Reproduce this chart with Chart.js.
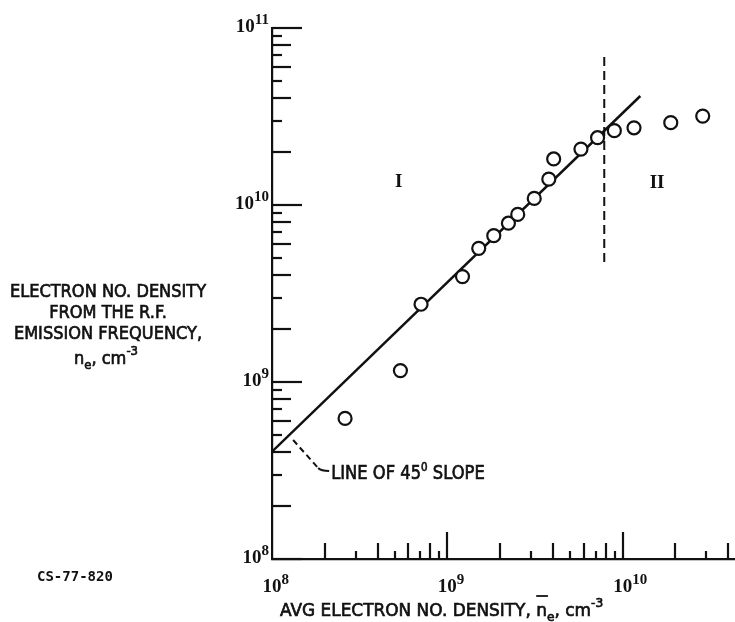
<!DOCTYPE html>
<html>
<head>
<meta charset="utf-8">
<script src="https://cdn.jsdelivr.net/npm/chart.js@4.4.0/dist/chart.umd.min.js"></script>
<style>
  html, body { margin: 0; padding: 0; background: #fff; }
  #wrap { width: 735px; height: 622px; }
</style>
</head>
<body>
<div id="wrap"><canvas id="densityChart" width="735" height="622"></canvas></div>
<script>
// average electron density (x) against density from the r.f. emission frequency (y), cm^-3
var avgDensity = [2.61e8, 5.40e8, 7.08e8, 1.22e9, 1.51e9, 1.84e9, 2.23e9, 2.52e9, 3.13e9,
                  3.79e9, 4.04e9, 5.78e9, 7.19e9, 8.96e9, 1.16e10, 1.88e10, 2.86e10];
var rfDensity  = [6.23e8, 1.16e9, 2.75e9, 3.94e9, 5.69e9, 6.71e9, 7.89e9, 8.85e9, 1.09e10,
                  1.40e10, 1.82e10, 2.07e10, 2.40e10, 2.63e10, 2.73e10, 2.92e10, 3.18e10];

// line of 45 degree slope
var slopeX = [1e8, 1.26e10];
var slopeY = [4.04e8, 4.13e10];

// dashed boundary between regime I and II
var boundaryX = [7.85e9, 7.85e9];
var boundaryY = [4.76e9, 7.23e10];

// regime labels
var regionNames = ['I', 'II'];
var regionX = [5.28e8, 1.57e10];
var regionY = [1.38e10, 1.36e10];

// decade tick labels (exponents of ten)
var xDecades = [8, 9, 10];
var yDecades = [8, 9, 10, 11];

var INK = '#111';

function zip(xs, ys) {
    return xs.map(function (x, i) { return { x: x, y: ys[i] }; });
}

// draw a row of text pieces: [text, font, raise]; a thin outline gives the lettering some weight
function drawRuns(ctx, runs, x, y, align, squeeze) {
    squeeze = squeeze || 1;
    var total = 0;
    runs.forEach(function (r) {
        ctx.font = r[1];
        r.w = ctx.measureText(r[0]).width * squeeze;
        total += r.w;
    });
    var pos = align === 'center' ? x - total / 2 : (align === 'right' ? x - total : x);
    runs.forEach(function (r) {
        ctx.save();
        ctx.font = r[1];
        ctx.translate(pos, y - (r[2] || 0));
        ctx.scale(squeeze, 1);
        ctx.fillText(r[0], 0, 0);
        if (r[3]) {
            ctx.lineWidth = r[3];
            ctx.strokeText(r[0], 0, 0);
        }
        ctx.restore();
        r.x = pos;
        pos += r.w;
    });
    return runs;
}

function tickLength(m, major, even, odd) {
    if (m === 1) return major;
    return m % 2 === 0 ? even : odd;
}

var paperPlugin = {
    id: 'paper',
    afterDraw: function (chart) {
        var ctx = chart.ctx;
        var xs = chart.scales.x, ys = chart.scales.y;
        var area = chart.chartArea;
        ctx.save();
        ctx.strokeStyle = INK;
        ctx.fillStyle = INK;
        ctx.lineWidth = 2.2;
        ctx.lineCap = 'butt';
        ctx.textBaseline = 'alphabetic';
        ctx.textAlign = 'left';

        // inward tick marks, 1..9 per decade
        for (var d = 8; d <= 11; d++) {
            for (var m = 1; m <= 9; m++) {
                var v = m * Math.pow(10, d);
                if (v >= ys.min && v <= ys.max) {
                    var py = Math.round(ys.getPixelForValue(v));
                    ctx.beginPath();
                    ctx.moveTo(area.left, py);
                    ctx.lineTo(area.left + tickLength(m, 30, 19, 10), py);
                    ctx.stroke();
                }
                if (v > xs.min && v <= xs.max) {
                    var px = Math.round(xs.getPixelForValue(v));
                    ctx.beginPath();
                    ctx.moveTo(px, area.bottom);
                    ctx.lineTo(px, area.bottom - tickLength(m, 27, 16, 8));
                    ctx.stroke();
                }
            }
        }

        // decade labels
        var big = 'bold 19px "Liberation Serif", "DejaVu Serif", serif';
        var small = 'bold 15px "Liberation Serif", "DejaVu Serif", serif';
        yDecades.forEach(function (e) {
            var py = ys.getPixelForValue(Math.pow(10, e));
            drawRuns(ctx, [['10', big, 0], [String(e), small, 8]], area.left - 3, py + 4, 'right');
        });
        xDecades.forEach(function (e) {
            var px = xs.getPixelForValue(Math.pow(10, e));
            ctx.font = big;
            var w = ctx.measureText('10').width;
            drawRuns(ctx, [['10', big, 0], [String(e), small, 8]], px - w / 2, area.bottom + 33, 'left');
        });

        // regime labels
        regionNames.forEach(function (name, i) {
            ctx.font = 'bold 19px "Liberation Serif", "DejaVu Serif", serif';
            ctx.textAlign = 'center';
            ctx.fillText(name, xs.getPixelForValue(regionX[i]), ys.getPixelForValue(regionY[i]) + 7);
            ctx.textAlign = 'left';
        });

        var sans = function (size) { return size + 'px "DejaVu Sans", "Liberation Sans", sans-serif'; };
        var W = 0.7;

        // y axis title, stacked to the left
        var cx = 108;
        var sq = 0.9;
        drawRuns(ctx, [['ELECTRON NO. DENSITY', sans(18), 0, W]], cx, 297, 'center', sq);
        drawRuns(ctx, [['FROM THE R.F.', sans(18), 0, W]], cx, 318, 'center', sq);
        drawRuns(ctx, [['EMISSION FREQUENCY,', sans(18), 0, W]], cx, 338.5, 'center', sq);
        drawRuns(ctx, [['n', sans(18), 0, W], ['e', sans(13), -5, W], [', cm', sans(18), 0, W], ['-3', sans(13), 9, W]],
            cx - 2, 364, 'center', sq);

        // x axis title
        var runs = drawRuns(ctx, [['AVG ELECTRON NO. DENSITY, ', sans(18), 0, W], ['n', sans(18), 0, W],
            ['e', sans(13), -5, W], [', cm', sans(18), 0, W], ['-3', sans(13), 9, W]], 280, 616, 'left', 0.94);
        var n = runs[1];
        ctx.lineWidth = 1.8;
        ctx.beginPath();
        ctx.moveTo(n.x, 596);
        ctx.lineTo(n.x + n.w + 1, 596);
        ctx.stroke();

        // callout for the 45 degree line
        var ax = xs.getPixelForValue(1.32e8), ay = ys.getPixelForValue(4.7e8);
        ctx.lineWidth = 2;
        ctx.setLineDash([6, 4]);
        ctx.beginPath();
        ctx.moveTo(ax, ay);
        ctx.lineTo(ax + 25, ay + 28);
        ctx.stroke();
        ctx.setLineDash([]);
        ctx.beginPath();
        ctx.moveTo(ax + 25, ay + 28);
        ctx.quadraticCurveTo(ax + 28, ay + 31, ax + 36, ay + 31);
        ctx.stroke();
        drawRuns(ctx, [['LINE OF 45', sans(19), 0, W], ['0', sans(12), 8, W], [' SLOPE', sans(19), 0, W]],
            ax + 38, ay + 39, 'left', 0.86);

        // report number
        ctx.font = 'bold 14px "DejaVu Sans Mono", "Liberation Mono", monospace';
        ctx.fillText('CS-77-820', 37, 581);

        ctx.restore();
    }
};

var ctx = document.getElementById('densityChart').getContext('2d');
var densityChart = new Chart(ctx, {
    type: 'scatter',
    data: {
        datasets: [
            {
                label: 'measured',
                data: zip(avgDensity, rfDensity),
                pointStyle: 'circle',
                pointRadius: 6.5,
                pointBorderWidth: 2.2,
                borderColor: INK,
                backgroundColor: '#fff',
                order: 0
            },
            {
                type: 'line',
                label: 'line of 45 deg slope',
                data: zip(slopeX, slopeY),
                showLine: true,
                borderColor: INK,
                borderWidth: 2.5,
                pointRadius: 0,
                order: 1
            },
            {
                type: 'line',
                label: 'regime boundary',
                data: zip(boundaryX, boundaryY),
                showLine: true,
                borderColor: INK,
                borderWidth: 2,
                borderDash: [9, 5],
                pointRadius: 0,
                order: 1
            }
        ]
    },
    options: {
        responsive: false,
        animation: false,
        events: [],
        layout: {
            autoPadding: false,
            padding: { left: 272, top: 28, right: 0, bottom: 63 }
        },
        plugins: {
            legend: { display: false },
            tooltip: { enabled: false }
        },
        scales: {
            x: {
                type: 'logarithmic',
                min: 1e8,
                max: 4.37e10,
                ticks: { display: false },
                grid: { display: false, drawTicks: false },
                border: { display: true, color: INK, width: 2.2 }
            },
            y: {
                type: 'logarithmic',
                min: 1e8,
                max: 1e11,
                ticks: { display: false },
                grid: { display: false, drawTicks: false },
                border: { display: true, color: INK, width: 2.2 }
            }
        }
    },
    plugins: [paperPlugin]
});
</script>
</body>
</html>
